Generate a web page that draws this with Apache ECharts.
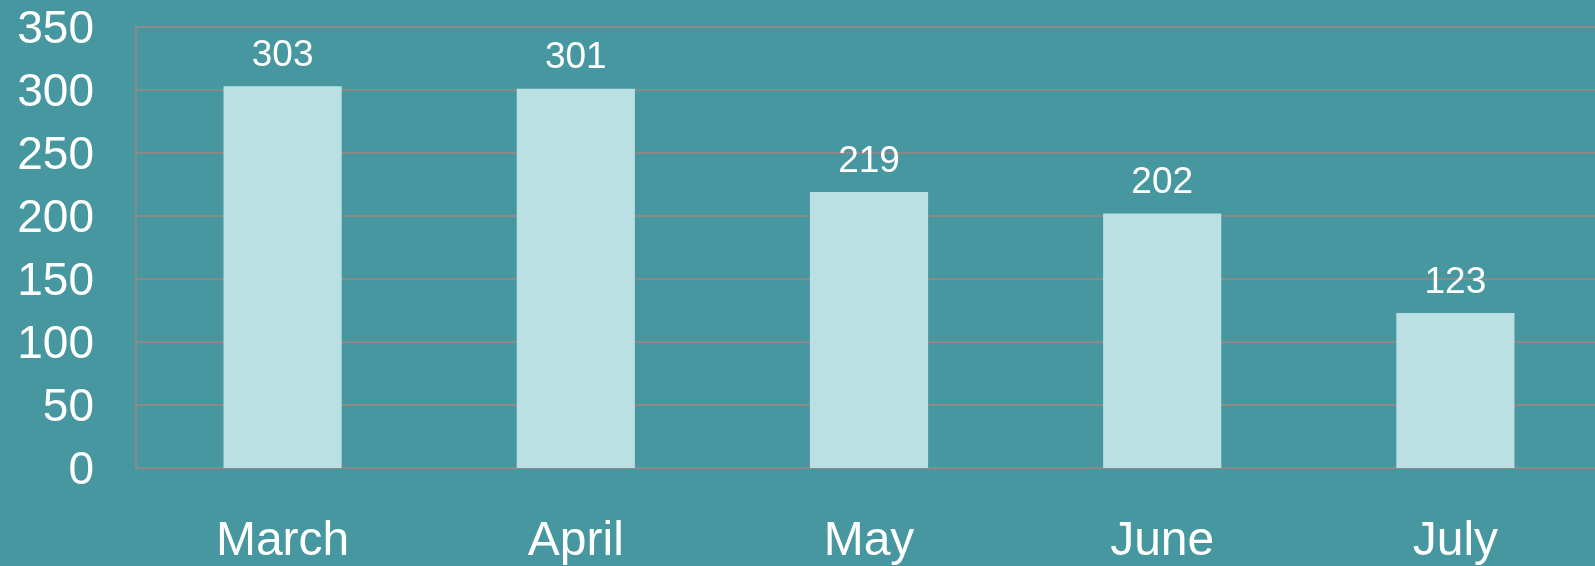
<!DOCTYPE html>
<html>
<head>
<meta charset="utf-8">
<script src="https://cdn.jsdelivr.net/npm/echarts@6/dist/echarts.min.js"></script>
<style>
html, body { margin: 0; padding: 0; background: #4697a0; }
#main { width: 1595px; height: 566px; }
</style>
</head>
<body>
<div id="main"></div>
<script>
// months and values
var months = ['March', 'April', 'May', 'June', 'July'];
var values = [303, 301, 219, 202, 123];

var myChart = echarts.init(document.getElementById('main'));
var font = 'Liberation Sans, Arial, sans-serif';
var option = {
    backgroundColor: '#4697a0',
    animation: false,
    grid: { left: 136, width: 1466, top: 27, height: 441, outerBoundsMode: 'none' },
    xAxis: {
        type: 'category',
        data: months,
        axisLine: { show: true, lineStyle: { color: '#8a8a8a', width: 2 } },
        axisTick: { show: false },
        axisLabel: { color: '#ffffff', fontSize: 48, fontFamily: font, margin: 50 }
    },
    yAxis: {
        type: 'value',
        min: 0,
        max: 350,
        interval: 50,
        axisLine: { show: true, lineStyle: { color: '#8a8a8a', width: 2 } },
        axisTick: { show: false },
        splitLine: { lineStyle: { color: '#8a8a8a', width: 2 } },
        axisLabel: {
            color: '#ffffff', fontSize: 46, fontFamily: font, margin: 42,
            formatter: '{v|{value}}',
            rich: { v: { color: '#ffffff', fontSize: 46, fontFamily: font, padding: [6, 0, 0, 0] } }
        }
    },
    series: [{
        type: 'bar',
        data: values,
        barWidth: '40.3%',
        itemStyle: { color: '#bae0e3' },
        label: {
            show: true,
            position: 'top',
            distance: 12,
            color: '#ffffff',
            fontSize: 37,
            fontFamily: font
        }
    }]
};
myChart.setOption(option);
</script>
</body>
</html>
